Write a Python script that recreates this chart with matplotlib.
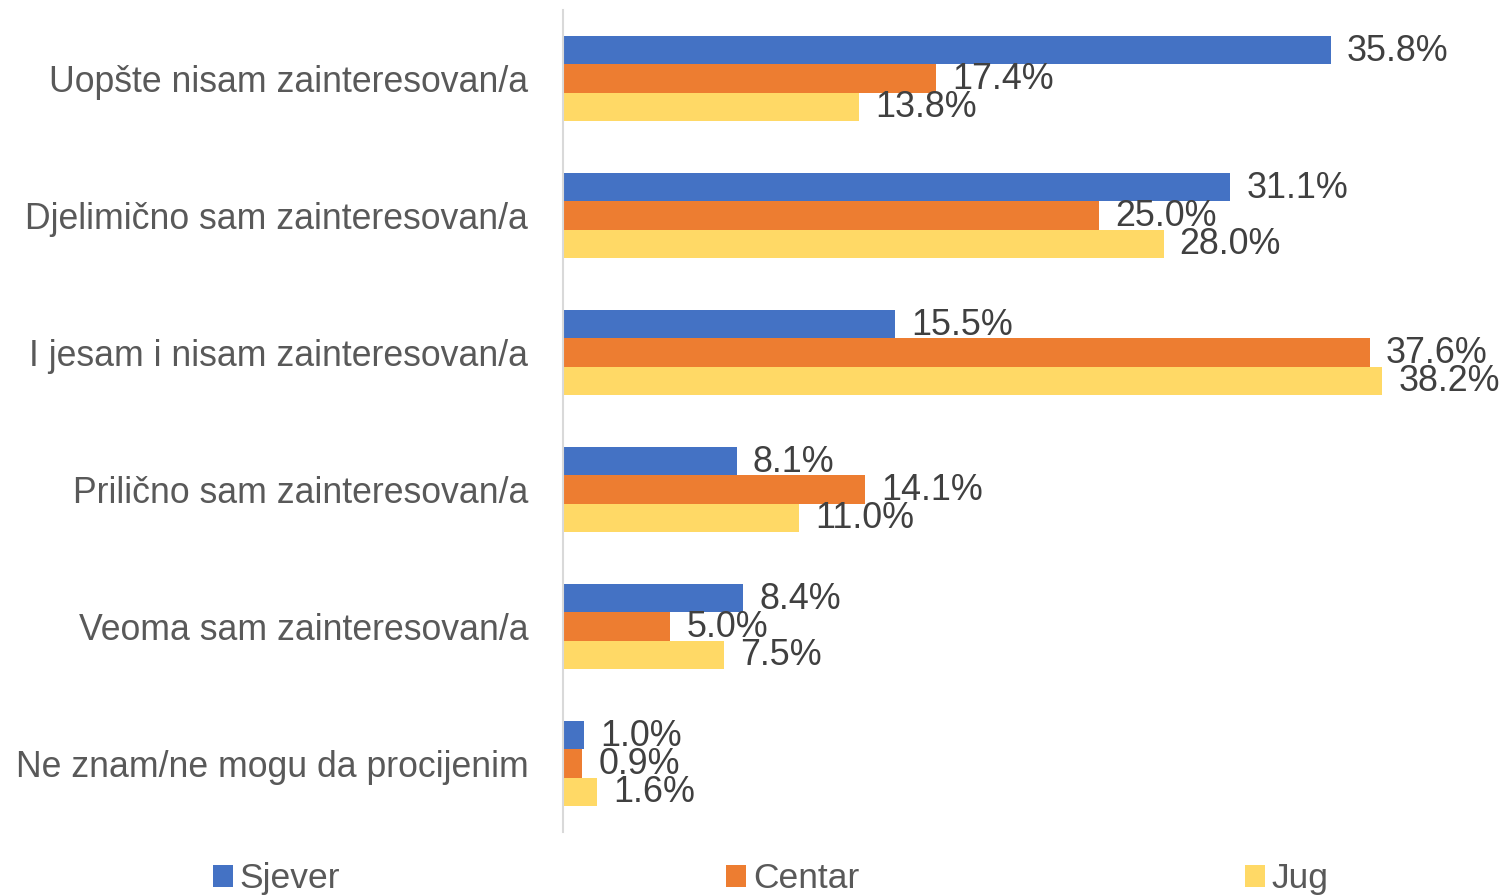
import numpy as np
import matplotlib.pyplot as plt

plt.rcParams["font.family"] = ["Liberation Sans", "DejaVu Sans"]

categories = [
    "Uopšte nisam zainteresovan/a",
    "Djelimično sam zainteresovan/a",
    "I jesam i nisam zainteresovan/a",
    "Prilično sam zainteresovan/a",
    "Veoma sam zainteresovan/a",
    "Ne znam/ne mogu da procijenim",
]
series = ["Sjever", "Centar", "Jug"]
sjever = [35.8, 31.1, 15.5, 8.1, 8.4, 1.0]
centar = [17.4, 25.0, 37.6, 14.1, 5.0, 0.9]
jug = [13.8, 28.0, 38.2, 11.0, 7.5, 1.6]

COLORS = ["#4472C4", "#ED7D31", "#FFD966"]

fig = plt.figure(figsize=(15.06, 8.96), dpi=100)
ax = fig.add_axes([563 / 1506, 64 / 896, 927 / 1506, 822 / 896])

y = np.arange(len(categories))
h = 0.205
for k, (name, vals) in enumerate(zip(series, [sjever, centar, jug])):
    pos = y + (k - 1) * h
    ax.barh(pos, vals, height=h, color=COLORS[k], label=name)
    # value labels (they overlap a bit in the original too)
    for yy, v in zip(pos, vals):
        ax.text(v + 0.75, yy + 0.01, f"{v:.1f}%", va="center", ha="left",
                fontsize=25.8, color="#404040")

ax.set_xlim(0, 927 / 21.45)
ax.set_ylim(len(categories) - 0.5, -0.5)
ax.set_xticks([])
ax.set_yticks(y)
ax.set_yticklabels(categories, fontsize=25.7, color="#595959")
ax.tick_params(axis="y", length=0, pad=25)
for s in ["top", "right", "bottom"]:
    ax.spines[s].set_visible(False)
ax.spines["left"].set_color("#D9D9D9")
ax.spines["left"].set_linewidth(1.5)

fig.legend(loc="lower center", bbox_to_anchor=(0.512, -0.035), ncol=3,
           frameon=False, fontsize=25.5, handlelength=0.55, handleheight=0.55,
           handletextpad=0.2, columnspacing=10.9,
           labelcolor="#595959")

fig.savefig("out.png", dpi=100)
